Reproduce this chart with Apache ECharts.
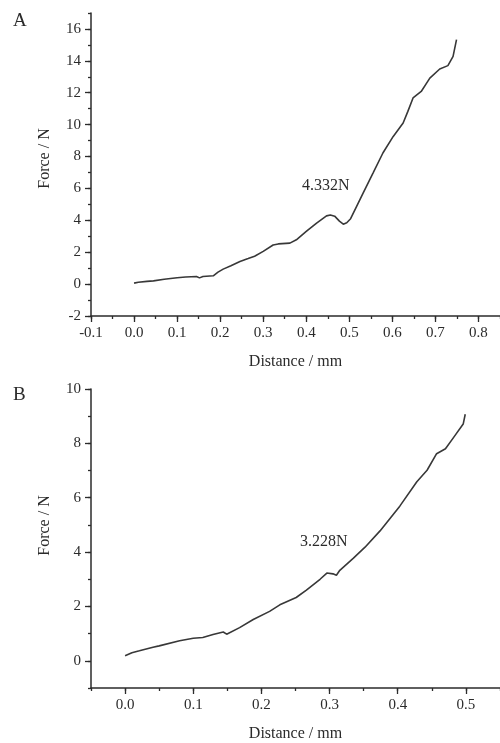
<!DOCTYPE html>
<html>
<head>
<meta charset="utf-8">
<script src="https://cdn.jsdelivr.net/npm/echarts@6/dist/echarts.min.js"></script>
<style>
html,body{margin:0;padding:0;background:#fff;}
#c{width:500px;height:743px;}
</style>
</head>
<body>
<div id="c"></div>
<script>
// Panel A data
var distA  = [0.0,0.01,0.03,0.045,0.07,0.1,0.12,0.145,0.152,0.16,0.184,0.195,0.207,0.225,0.246,0.265,0.28,0.3,0.323,0.335,0.362,0.377,0.4,0.424,0.447,0.456,0.466,0.477,0.486,0.494,0.503,0.517,0.532,0.555,0.578,0.602,0.625,0.636,0.648,0.667,0.687,0.71,0.729,0.741,0.749];
var forceA = [0.06,0.12,0.17,0.2,0.3,0.4,0.45,0.48,0.39,0.48,0.52,0.75,0.94,1.15,1.42,1.6,1.75,2.05,2.45,2.52,2.57,2.78,3.3,3.83,4.28,4.332,4.26,3.95,3.76,3.85,4.1,4.87,5.71,6.96,8.22,9.26,10.1,10.83,11.67,12.08,12.92,13.49,13.7,14.28,15.33];
// Panel B data
var distB  = [0.0,0.01,0.021,0.041,0.05,0.08,0.1,0.114,0.129,0.144,0.149,0.168,0.188,0.212,0.227,0.251,0.266,0.286,0.296,0.305,0.31,0.315,0.335,0.352,0.374,0.403,0.428,0.443,0.457,0.47,0.482,0.496,0.499];
var forceB = [0.19,0.3,0.37,0.5,0.55,0.74,0.83,0.86,0.97,1.06,0.98,1.22,1.52,1.82,2.06,2.33,2.6,3.0,3.228,3.2,3.15,3.33,3.78,4.18,4.78,5.69,6.59,7.01,7.62,7.8,8.22,8.71,9.07];

var xMajorA = [-0.1,0,0.1,0.2,0.3,0.4,0.5,0.6,0.7,0.8];
var yMajorA = [-2,0,2,4,6,8,10,12,14,16];
var xMajorB = [0,0.1,0.2,0.3,0.4,0.5];
var yMajorB = [0,2,4,6,8,10];
var peakLabelA = '4.332N';
var peakLabelB = '3.228N';

var FONT = "'Liberation Serif','Times New Roman',serif";
var INK = '#2b2b2b';

function zip(xs, ys){ return xs.map(function(x,i){ return [x, ys[i]]; }); }

function xAxes(grid, min, max, minorStep, majors){
  return [{
    type:'value', gridIndex:grid, position:'bottom', min:min, max:max, interval:minorStep,
    name:'Distance / mm', nameLocation:'middle', nameGap:38,
    nameTextStyle:{fontFamily:FONT, fontSize:16, color:INK},
    axisLine:{show:true, onZero:false, lineStyle:{color:INK, width:1.5}},
    axisTick:{show:true, length:3, lineStyle:{color:INK, width:1.3}},
    axisLabel:{show:true, customValues:majors, margin:10, fontFamily:FONT, fontSize:15, color:INK,
      formatter:function(v){ return v.toFixed(1); }},
    splitLine:{show:false}
  },{
    type:'value', gridIndex:grid, position:'bottom', min:min, max:max, interval:minorStep,
    axisLine:{show:false, onZero:false},
    axisTick:{show:true, customValues:majors, length:6, lineStyle:{color:INK, width:1.3}},
    axisLabel:{show:false}, splitLine:{show:false}
  }];
}
function yAxes(grid, min, max, majors, pad){
  return [{
    type:'value', gridIndex:grid, position:'left', min:min, max:max, interval:1,
    name:'Force / N', nameLocation:'middle', nameGap:38,
    nameTextStyle:{fontFamily:FONT, fontSize:16, color:INK, padding:[0,0,0,pad]},
    axisLine:{show:true, onZero:false, lineStyle:{color:INK, width:1.5}},
    axisTick:{show:true, length:3, lineStyle:{color:INK, width:1.3}},
    axisLabel:{show:true, customValues:majors, margin:10, fontFamily:FONT, fontSize:15, color:INK},
    splitLine:{show:false}
  },{
    type:'value', gridIndex:grid, position:'left', min:min, max:max, interval:1,
    axisLine:{show:false, onZero:false},
    axisTick:{show:true, customValues:majors, length:6, lineStyle:{color:INK, width:1.3}},
    axisLabel:{show:false}, splitLine:{show:false}
  }];
}

var chart = echarts.init(document.getElementById('c'), null, {renderer:'canvas'});
var xs = xAxes(0,-0.1,0.85,0.05,xMajorA).concat(xAxes(1,-0.05,0.55,0.05,xMajorB));
var ys = yAxes(0,-2,17,yMajorA,12).concat(yAxes(1,-1,10,yMajorB,26));

chart.setOption({
  backgroundColor:'#ffffff',
  animation:false,
  textStyle:{fontFamily:FONT},
  grid:[
    {left:91, top:13, width:409, height:303},
    {left:91, top:389, width:409, height:304}
  ],
  xAxis: xs,
  yAxis: ys,
  graphic:[
    {type:'text', left:13, top:12, style:{text:'A', font:'19px '+FONT, fill:INK}},
    {type:'text', left:13, top:386, style:{text:'B', font:'19px '+FONT, fill:INK}},
    {type:'text', left:302, top:178, style:{text:peakLabelA, font:'16px '+FONT, fill:INK}},
    {type:'text', left:300, top:534, style:{text:peakLabelB, font:'16px '+FONT, fill:INK}}
  ],
  series:[
    {type:'line', xAxisIndex:0, yAxisIndex:0, data:zip(distA,forceA), showSymbol:false, symbol:'none',
      lineStyle:{color:'#383838', width:1.6}},
    {type:'line', xAxisIndex:2, yAxisIndex:2, data:zip(distB,forceB), showSymbol:false, symbol:'none',
      lineStyle:{color:'#383838', width:1.6}}
  ]
});
</script>
</body>
</html>
